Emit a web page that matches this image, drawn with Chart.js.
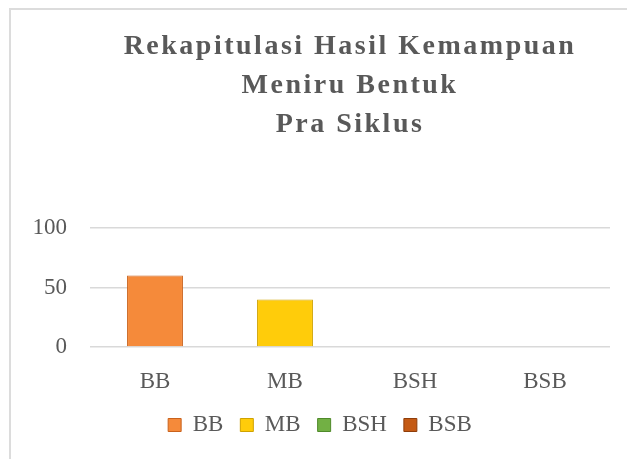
<!DOCTYPE html>
<html>
<head>
<meta charset="utf-8">
<script src="https://cdn.jsdelivr.net/npm/chart.js@4"></script>
<style>
  html, body { margin: 0; padding: 0; background: #fff; overflow: hidden; }
  #frame {
    position: absolute; left: 9px; top: 8px; width: 700px; height: 500px;
    border: 2px solid #dcdcdc; box-sizing: border-box;
  }
  #wrap { position: absolute; left: 0; top: 0; width: 627px; height: 459px; }
</style>
</head>
<body>
<div id="frame"></div>
<div id="wrap"><canvas id="chart" width="627" height="459"></canvas></div>
<script>
const categories = ['BB', 'MB', 'BSH', 'BSB'];
const values = [60, 40, 0, 0];
const yTicks = [0, 50, 100];
const titleLines = ['Rekapitulasi Hasil Kemampuan', 'Meniru Bentuk', 'Pra Siklus'];

const barColors = ['#f58a3a', '#ffcc0a', '#72b044', '#c45a14'];
const barEdges = ['#c9621c', '#cfa200', '#4f8a2a', '#8f3d0a'];
const textColor = '#595959';
const serif = "'Liberation Serif', 'Times New Roman', serif";

// title in the reference is spaced out a bit
const titleSpacing = {
    id: 'titleSpacing',
    afterInit(chart) {
        const tb = chart.titleBlock;
        if (!tb) return;
        const orig = tb.draw.bind(tb);
        tb.draw = function () {
            const ctx = chart.ctx;
            ctx.save();
            ctx.letterSpacing = '2.5px';
            orig();
            ctx.restore();
        };
    }
};

const ctx = document.getElementById('chart').getContext('2d');
new Chart(ctx, {
    type: 'bar',
    data: {
        labels: categories,
        datasets: [{
            data: values,
            backgroundColor: barColors,
            borderColor: barEdges,
            borderWidth: 1,
            barPercentage: 0.43,
            categoryPercentage: 1
        }]
    },
    options: {
        responsive: false,
        animation: false,
        layout: { padding: { left: 30, right: 17, top: 0, bottom: 12.5 } },
        scales: {
            x: {
                grid: { display: false, drawTicks: false },
                border: { display: false },
                ticks: { color: textColor, font: { family: serif, size: 23 }, padding: 21 },
                afterFit: (scale) => { scale.height = 49.5; }
            },
            y: {
                min: 0,
                max: 100,
                afterBuildTicks: (axis) => { axis.ticks = yTicks.map(v => ({ value: v })); },
                grid: { color: '#d9d9d9', lineWidth: 1.5, drawTicks: false },
                border: { display: false },
                ticks: { color: textColor, font: { family: serif, size: 23 }, padding: 23 },
                afterFit: (scale) => { scale.width = 60; }
            }
        },
        plugins: {
            title: {
                display: true,
                text: titleLines,
                fullSize: false,
                color: textColor,
                font: { family: serif, size: 28, weight: 'bold', lineHeight: 39 / 28 },
                padding: { top: 27.5, bottom: 83.5 }
            },
            legend: {
                position: 'bottom',
                labels: {
                    color: textColor,
                    font: { family: serif, size: 23 },
                    boxWidth: 13,
                    boxHeight: 13,
                    padding: 17,
                    generateLabels: () => categories.map((c, i) => ({
                        text: c,
                        fillStyle: barColors[i],
                        strokeStyle: barEdges[i],
                        lineWidth: 1,
                        fontColor: textColor,
                        hidden: false,
                        index: i
                    }))
                }
            },
            tooltip: { enabled: false }
        }
    },
    plugins: [titleSpacing]
});
</script>
</body>
</html>
